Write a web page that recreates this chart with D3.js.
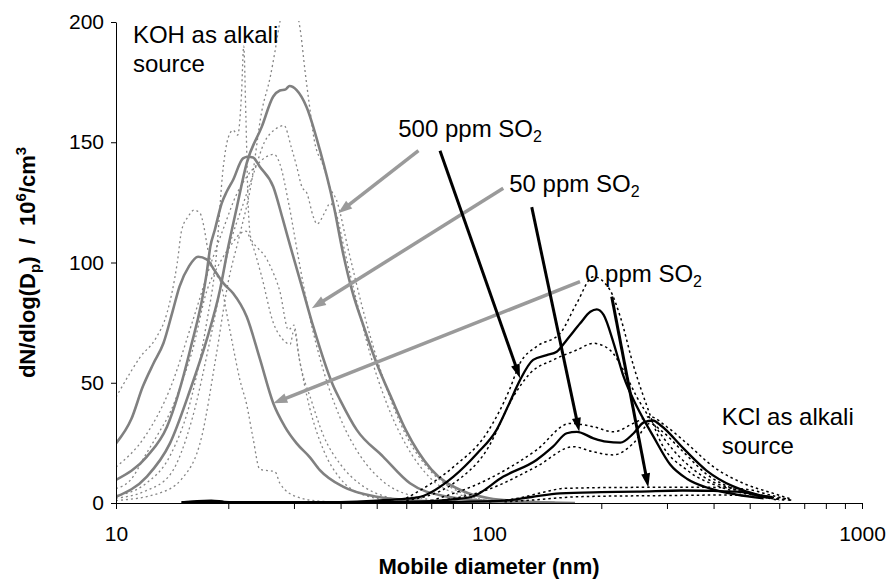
<!DOCTYPE html>
<html><head><meta charset="utf-8">
<script src="https://cdn.jsdelivr.net/npm/d3@7"></script>
<style>
body{margin:0;background:#fff}
svg{display:block}
text{font-family:"Liberation Sans",Arial,Helvetica,sans-serif;fill:#000}
</style>
</head><body>
<svg id="chart" width="888" height="582"></svg>
<script>
// ---------- data: [mobile diameter (nm), dN/dlog(Dp) (1e6/cm3)] ----------
// KOH as alkali source (grey): mean curves
const koh0 = [[10,24.8],[11,35],[11.8,48.4],[12.6,58],[13.4,66.4],[14.2,80],[14.8,90],[15.7,98.5],[16.6,102.4],[17.5,101.3],[18.5,96],[19.5,91],[20.6,87.2],[22.4,77.5],[24.3,60],[26.4,41.5],[28.3,32],[30.5,24.8],[33.1,19],[35.2,13.7],[40.6,6.8],[50,2.6],[61,1.2],[75,0.5],[100,0.2],[150,0]];
const koh50 = [[10,9.6],[12.1,19.3],[13.7,31.7],[15.8,63.6],[17.5,95.5],[17.9,106.6],[18.4,113.5],[19.2,124.6],[19.8,129.4],[20.6,134.3],[21.9,143.3],[22.6,144],[23.3,143.7],[24.3,139.8],[26.4,131.5],[28,118],[29.3,107],[31.5,90],[33.8,73.3],[38.3,48.4],[39.9,42.8],[44.2,30.4],[52,19.3],[61.4,8.2],[75,3],[100,0.8],[150,0]];
const koh500 = [[10,2.6],[12.1,11],[13.95,24.8],[15.8,47],[17.5,67.8],[19,88.6],[20,106.6],[21.1,123.2],[22.4,141.2],[24.6,156.5],[26.4,169],[27.5,171.5],[28.5,172],[29.2,173.4],[30.5,171.7],[32.4,164.8],[35.2,146.8],[38.3,124],[40.6,104],[43,88],[46,74],[50,58],[55,43],[60,30],[70,14],[85,5],[100,2],[130,0.5],[170,0]];
// KOH individual scans (grey dotted)
const koh0RunA = [[10,44],[11,55],[11.6,60.6],[12.8,68.6],[13.7,79],[14.6,100],[15,113.5],[15.6,119],[16.2,121.8],[16.8,120.5],[17.2,115],[17.6,106],[18.4,95.5],[19,92.7],[19.8,78.9],[20.6,65],[21.5,51],[22.4,41],[23.3,27],[24.3,14],[25.5,13.5],[26.7,13],[27.5,8.2],[30.5,2.6],[35,0.8],[45,0.2],[60,0]];
const koh0RunB = [[10,6],[11,10],[12,20],[13,29],[14,38],[15,50],[16,63],[17.5,88],[19,100],[20.5,108],[21.5,112],[22.3,113],[23,109],[24.5,95],[26.4,75],[28,68],[29.3,66],[30,72],[31,60],[33,40],[36,22],[40,10],[45,4],[55,1],[70,0]];
const koh50RunA = [[10,3],[12,8],[14,20],[16,45],[17.5,75],[18.5,100],[19.4,140],[20,152],[20.6,155],[21.2,153],[21.7,170],[22,190],[22.3,160],[22.6,125],[23,110],[24,106],[25,103],[26,98],[27.5,88],[29,72],[30,74],[31,60],[33.5,42],[36,28],[40,16],[45,8],[52,3],[60,1],[80,0]];
const koh50RunB = [[10,15],[12,28],[14,48],[16,75],[18,100],[19.5,115],[21,128],[22.5,136],[24,141],[25.3,144],[26.5,145],[27.5,141],[29,125],[31,100],[33,78],[36,55],[40,35],[45,20],[52,9],[62,3],[80,0.5],[100,0]];
const koh500RunA = [[10,1],[13,4],[15,10],[17,28],[18.5,60],[20,92],[21.5,112],[23,132],[24.6,163],[25.9,177],[26.7,188],[27.5,200],[29,214],[30.5,205],[31.3,195],[32.1,180],[32.9,167],[34,151],[36,140],[37.5,131],[39,126],[42,105],[46,80],[52,52],[60,28],[70,13],[85,4],[100,1],[130,0]];
const koh500RunB = [[10,2],[12,5],[14,12],[16,35],[18,70],[20,105],[22,125],[23.5,138],[25,150],[26.5,155],[27.5,156.5],[28.2,157],[29.5,148],[30.5,140],[31.5,131.5],[32.5,128.8],[33.8,119],[34.6,116],[36.2,120.5],[37.5,124.6],[39,120],[41,105],[44,85],[48,62],[53,42],[60,24],[70,10],[85,3],[100,1],[130,0]];

// KCl as alkali source (black): mean curves
const kcl500 = [[15,0.3],[16.5,0.8],[18,1],[19.5,0.5],[22,0.2],[30,0.2],[40,0.4],[50,1],[60,1.8],[65.5,2.6],[80.3,11],[92.9,20.6],[104.8,30.4],[113.4,41.5],[121,51],[131.3,59.5],[142.8,61.5],[151.9,62.9],[161.6,67.8],[175.6,74.7],[186.9,79.5],[194.5,80.5],[202.9,78.2],[215.9,66.4],[229.6,52.5],[249.3,40],[276,27.6],[306,16],[340,10],[392,6],[461,3.5],[545,1.9]];
const kcl50 = [[15,0.2],[17,0.6],[19,0.4],[30,0.3],[60,0.5],[80,1.5],[90,2.6],[109.3,11],[134.1,17.9],[148.4,23.4],[161.6,29],[172,29.6],[190.6,26.9],[206.3,25.5],[224.9,25.1],[244.2,29],[260,33.5],[275,34.3],[290,32],[333,22.5],[383,13.5],[450,7],[524,3.5],[575,2.4]];
const kcl0 = [[15,0.2],[40,0.3],[80,0.5],[110,1],[130,2.5],[155,4],[200,4.5],[250,4.7],[330,5.2],[400,5],[461,4.7],[500,4],[544.5,2.6],[575,2.2]];
// KCl individual scans (black dotted)
const kcl500RunA = [[60,2],[80.3,15],[98.6,29],[113.4,47],[121,58],[134,65],[155,70.5],[171.8,83],[190.4,94.1],[211,88.6],[224.8,77.5],[244.4,56.7],[265.5,40],[286.9,26.2],[339.5,13.7],[414.9,6.8],[507,3.3],[620,1.2]];
const kcl500RunB = [[60,1],[80.3,8.2],[98.6,22],[116.2,44.2],[128.8,53.9],[148.7,59.5],[171.8,63.6],[190.4,66.4],[211.1,63.6],[229.2,55.3],[248.9,44.2],[275.7,33.1],[312,22],[375.4,11],[461.4,5.4],[566.9,2.6],[650,1]];
const kcl50RunA = [[70,1],[98.6,9.6],[134,22],[164.9,33.1],[190.4,31.7],[215.4,29.6],[243.8,33.1],[270.2,35.9],[299.5,31.7],[339,24.8],[399.3,15.1],[480.6,8.2],[578.5,4],[650,1.5]];
const kcl50RunB = [[70,0.5],[98.6,5.4],[134,15.1],[168.3,23.4],[190.4,21.3],[215.4,20],[243.8,24.8],[270.2,33.1],[290,30],[333,21],[383,12],[450,6],[524,3],[600,1.5]];
const kcl0RunA = [[100,0.5],[120,2],[140,4.5],[160,6.1],[250,6.5],[400,6.5],[500,5.5],[567,3.3],[620,1.9],[650,1]];
const kcl0RunB = [[110,0.5],[130,1.2],[150,2],[171.8,2.6],[300,3.1],[414.9,3.3],[500,3],[567,1.9],[600,1]];

// axes
const xTickLabels = [10, 100, 1000];
const xMinorTicks = [20,30,40,50,60,70,80,90,200,300,400,500,600,700,800,900];
const yTicks = [0, 50, 100, 150, 200];

// annotations (data coordinates)
const textNotes = [
  {lines:["KOH as alkali","source"], d:11.1, v:191.3},
  {lines:["KCl as alkali","source"], d:420.6, v:32.4}
];
const so2Labels = [
  {ppm:"500", d:57.1, v:152.3},
  {ppm:"50", d:113.3, v:129.4},
  {ppm:"0", d:180.9, v:92.0}
];
const greyArrows = [[64.7,146.5,39.4,120.5],[109.2,130.9,33.5,81.0],[175.4,92.0,26.4,41.5]];
const blackArrows = [[73.9,146.5,121.1,51.9],[130.2,123.0,174.6,29.6],[213.3,85.8,267.3,6.5]];

// ---------- drawing ----------
const svg = d3.select("#chart");
const x = d3.scaleLog().domain([10,1000]).range([116,862]);
const y = d3.scaleLinear().domain([0,200]).range([503,22]);

svg.append("defs").append("clipPath").attr("id","plotclip")
  .append("rect").attr("x",x(10)).attr("y",y(200)-1)
  .attr("width",x(1000)-x(10)+2).attr("height",y(0)-y(200)+2);

const line = d3.line().x(p=>x(p[0])).y(p=>y(p[1])).curve(d3.curveMonotoneX);
const plot = svg.append("g").attr("clip-path","url(#plotclip)");

function draw(data, color, width, dash){
  plot.append("path").attr("d",line(data)).attr("fill","none")
    .attr("stroke",color).attr("stroke-width",width)
    .attr("stroke-linejoin","round")
    .attr("stroke-dasharray",dash||null);
}
[koh0RunA,koh0RunB,koh50RunA,koh50RunB,koh500RunA,koh500RunB].forEach(s=>draw(s,"#868686",1.3,"2,3"));
[koh0,koh50,koh500].forEach(s=>draw(s,"#808080",2.6));
[kcl500RunA,kcl500RunB,kcl50RunA,kcl50RunB,kcl0RunA,kcl0RunB].forEach(s=>draw(s,"#000",1.5,"2.5,3"));
[kcl500,kcl50,kcl0].forEach(s=>draw(s,"#000",2.3));

// axes
const xAxis = d3.axisBottom(x).tickValues(xTickLabels.concat(xMinorTicks))
  .tickFormat(d=>xTickLabels.includes(d)?String(d):"")
  .tickSize(6).tickSizeOuter(0).tickPadding(17);
const gx = svg.append("g").attr("transform",`translate(0,${y(0)})`).call(xAxis);
const yAxis = d3.axisLeft(y).tickValues(yTicks).tickSize(5).tickSizeOuter(0).tickPadding(7);
const gy = svg.append("g").attr("transform",`translate(${x(10)},0)`).call(yAxis);
[gx,gy].forEach(g=>{
  g.selectAll("path,line").attr("stroke","#000").attr("stroke-width",1);
  g.selectAll("text").attr("font-size",21).attr("font-family","Liberation Sans, Arial, sans-serif").attr("fill","#000");
});

// axis titles
svg.append("text").attr("x",(x(10)+x(1000))/2).attr("y",574).attr("text-anchor","middle")
  .attr("font-size",22).attr("font-weight","bold").text("Mobile diameter (nm)");
const yt = svg.append("text").attr("transform",`translate(35,${(y(0)+y(200))/2}) rotate(-90)`)
  .attr("text-anchor","middle").attr("font-size",22).attr("font-weight","bold")
  .style("white-space","pre");
yt.append("tspan").text("dN/dlog(D");
yt.append("tspan").attr("dy",5).attr("font-size",15).text("p");
yt.append("tspan").attr("dy",-5).text(")  /  10");
yt.append("tspan").attr("dy",-9).attr("font-size",15).text("6");
yt.append("tspan").attr("dy",9).text("/cm");
yt.append("tspan").attr("dy",-9).attr("font-size",15).text("3");

// arrows
function arrow(a,color,w,hl,hw){
  const x1=x(a[0]),y1=y(a[1]),x2=x(a[2]),y2=y(a[3]);
  const dx=x2-x1,dy=y2-y1,L=Math.hypot(dx,dy),ux=dx/L,uy=dy/L;
  const bx=x2-ux*hl,by=y2-uy*hl;
  svg.append("line").attr("x1",x1).attr("y1",y1).attr("x2",bx+ux*2).attr("y2",by+uy*2)
    .attr("stroke",color).attr("stroke-width",w);
  svg.append("path").attr("fill",color)
    .attr("d",`M${x2},${y2}L${bx-uy*hw/2},${by+ux*hw/2}L${bx+uy*hw/2},${by-ux*hw/2}Z`);
}
greyArrows.forEach(a=>arrow(a,"#9a9a9a",3.5,14,10));
blackArrows.forEach(a=>arrow(a,"#000",3,14,9));

// text annotations
textNotes.forEach(n=>{
  n.lines.forEach((t,i)=>{
    svg.append("text").attr("x",x(n.d)).attr("y",y(n.v)+i*29).attr("font-size",24).text(t);
  });
});
so2Labels.forEach(l=>{
  const t = svg.append("text").attr("x",x(l.d)).attr("y",y(l.v)).attr("font-size",24);
  t.append("tspan").text(l.ppm+" ppm SO");
  t.append("tspan").attr("dy",5).attr("font-size",16).text("2");
});
</script>
</body></html>
